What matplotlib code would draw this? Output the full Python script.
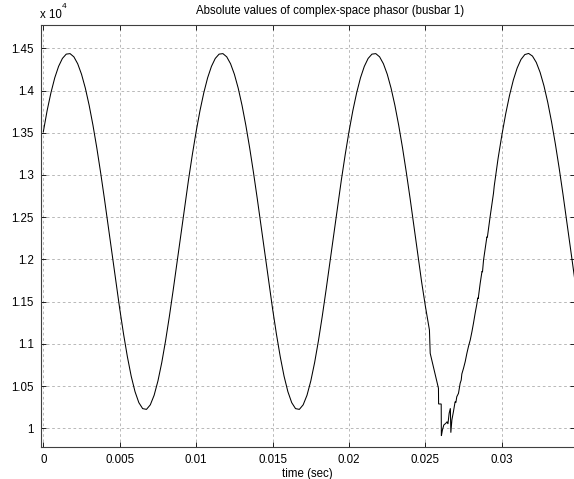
import matplotlib
matplotlib.use('Agg')
import matplotlib.pyplot as plt
import numpy as np

plt.rcParams['font.family'] = ['Liberation Sans', 'DejaVu Sans']

# ---- data ----
t_pre = [0.00000, 0.00025, 0.00050, 0.00075, 0.00100, 0.00125, 0.00150, 0.00175,
         0.00200, 0.00225, 0.00250, 0.00275, 0.00300, 0.00325, 0.00350, 0.00375,
         0.00400, 0.00425, 0.00450, 0.00475, 0.00500, 0.00525, 0.00550, 0.00575,
         0.00600, 0.00625, 0.00650, 0.00675, 0.00700, 0.00725, 0.00750, 0.00775,
         0.00800, 0.00825, 0.00850, 0.00875, 0.00900, 0.00925, 0.00950, 0.00975,
         0.01000, 0.01025, 0.01050, 0.01075, 0.01100, 0.01125, 0.01150, 0.01175,
         0.01200, 0.01225, 0.01250, 0.01275, 0.01300, 0.01325, 0.01350, 0.01375,
         0.01400, 0.01425, 0.01450, 0.01475, 0.01500, 0.01525, 0.01550, 0.01575,
         0.01600, 0.01625, 0.01650, 0.01675, 0.01700, 0.01725, 0.01750, 0.01775,
         0.01800, 0.01825, 0.01850, 0.01875, 0.01900, 0.01925, 0.01950, 0.01975,
         0.02000, 0.02025, 0.02050, 0.02075, 0.02100, 0.02125, 0.02150, 0.02175,
         0.02200, 0.02225, 0.02250, 0.02275, 0.02300, 0.02325, 0.02350, 0.02375,
         0.02400, 0.02425, 0.02450, 0.02475, 0.02500]
v_pre = [13510, 13762, 13974, 14151, 14286, 14380, 14431, 14437, 14399, 14317,
         14193, 14028, 13825, 13588, 13321, 13028, 12716, 12391, 12060, 11732,
         11414, 11116, 10848, 10617, 10434, 10304, 10233, 10224, 10278, 10391,
         10561, 10779, 11038, 11328, 11641, 11968, 12299, 12626, 12943, 13241,
         13516, 13762, 13974, 14151, 14286, 14380, 14431, 14437, 14399, 14317,
         14193, 14028, 13825, 13588, 13321, 13028, 12716, 12391, 12060, 11732,
         11414, 11116, 10848, 10617, 10434, 10304, 10233, 10224, 10278, 10391,
         10561, 10779, 11038, 11328, 11641, 11968, 12299, 12626, 12943, 13241,
         13516, 13762, 13974, 14151, 14286, 14380, 14431, 14437, 14399, 14317,
         14193, 14028, 13825, 13588, 13321, 13028, 12716, 12391, 12060, 11732,
         11440]

t_fault = [0.02526, 0.02531, 0.02585, 0.02586, 0.02603, 0.02604, 0.02611, 0.02620,
           0.02633, 0.02642, 0.02647, 0.02655, 0.02663, 0.02666, 0.02673, 0.02683,
           0.02694, 0.02699, 0.02705, 0.02716, 0.02727, 0.02734, 0.02738, 0.02749,
           0.02760, 0.02771, 0.02781, 0.02793, 0.02804, 0.02814, 0.02825, 0.02836,
           0.02842, 0.02845, 0.02858, 0.02870, 0.02873, 0.02880, 0.02902, 0.02905,
           0.02923, 0.02945]
v_fault = [11164, 10888, 10474, 10288, 10288, 9909, 9980, 10039,
           10059, 10078, 10051, 10178, 10237, 9948, 10100, 10197,
           10315, 10305, 10374, 10414, 10533, 10572, 10643, 10711,
           10789, 10888, 10966, 11046, 11144, 11243, 11362, 11470,
           11545, 11535, 11717, 11860, 11850, 11993, 12269, 12262,
           12506, 12783]

t_post = [0.02950, 0.02975, 0.03000, 0.03025, 0.03050, 0.03075, 0.03100, 0.03125,
          0.03150, 0.03175, 0.03200, 0.03225, 0.03250, 0.03275, 0.03300, 0.03325,
          0.03350, 0.03375, 0.03400, 0.03425, 0.03450, 0.03475]
v_post = [12870, 13195, 13474, 13725, 13943, 14125, 14267, 14368, 14426, 14439,
          14408, 14333, 14215, 14057, 13860, 13628, 13365, 13077, 12767, 12444,
          12113, 11784]

x_ticks = [0, 0.005, 0.01, 0.015, 0.02, 0.025, 0.03]
x_tick_labels = ['0', '0.005', '0.01', '0.015', '0.02', '0.025', '0.03']
y_ticks = [10000, 10500, 11000, 11500, 12000, 12500, 13000, 13500, 14000, 14500]
y_tick_labels = ['1', '1.05', '1.1', '1.15', '1.2', '1.25', '1.3', '1.35', '1.4', '1.45']

t = np.array(t_pre + t_fault + t_post)
v = np.array(v_pre + v_fault + v_post)

W, H = 574, 479
fig = plt.figure(figsize=(W / 100, H / 100), dpi=100)
fig.patch.set_facecolor('white')

left_px, right_px, top_px, bottom_px = 40.7, 574.5, 25.0, 446.7
ax = fig.add_axes([left_px / W, 1 - bottom_px / H,
                   (right_px - left_px) / W, (bottom_px - top_px) / H])

ax.plot(t, v, color='black', lw=0.75, solid_joinstyle='miter')

ax.set_xlim(-0.00017, 0.03475)
ax.set_ylim(9782, 14776)
ax.set_xticks(x_ticks)
ax.set_xticklabels(x_tick_labels)
ax.set_yticks(y_ticks)
ax.set_yticklabels(y_tick_labels)

ax.grid(True, color='#adadad', linestyle=(0, (3.2, 3.2)), linewidth=0.6)
ax.tick_params(direction='in', length=3.8, width=0.6, top=True, right=True,
               labelsize=8.3, colors='black', pad=5)
for s in ax.spines.values():
    s.set_linewidth(0.8)
    s.set_color('#404040')

ax.set_xlabel('time (sec)', fontsize=8.3, labelpad=2)
fig.text(330 / W, 1 - 11 / H, 'Absolute values of complex-space phasor (busbar 1)',
         ha='center', va='center', fontsize=8.3)
fig.text(40 / W, 1 - 15.5 / H, 'x 10', ha='left', va='center', fontsize=8.3)
fig.text(61.5 / W, 1 - 6 / H, '4', ha='left', va='center', fontsize=6)

fig.savefig('out.png', dpi=100, facecolor='white')
